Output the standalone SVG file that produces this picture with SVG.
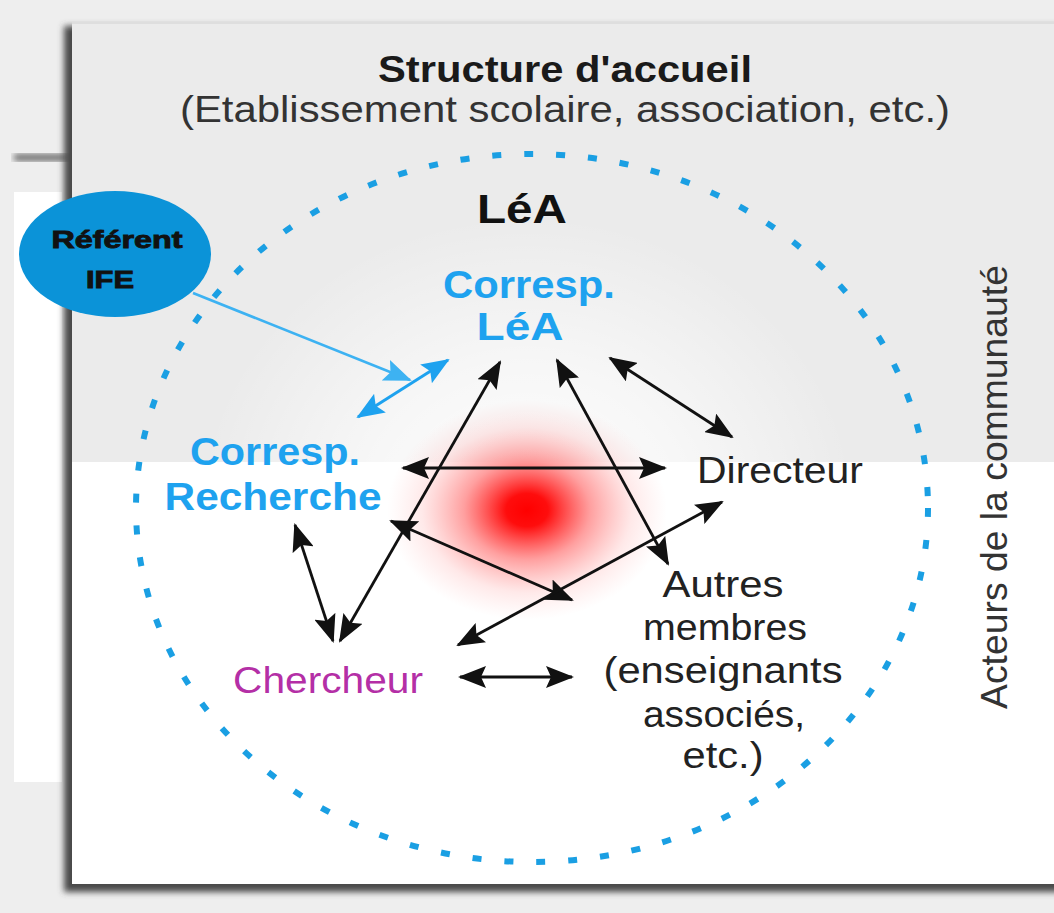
<svg xmlns="http://www.w3.org/2000/svg" width="1054" height="913" viewBox="0 0 1054 913">
  <defs>
    <style>
      .t { font-family: "Liberation Sans", Arial, sans-serif; }
      .blk { fill: #222222; }
      .blue { fill: #1ea2ef; font-weight: bold; }
      .conn { stroke: #111111; stroke-width: 2.8; fill: none; marker-start: url(#ah); marker-end: url(#ah); }
    </style>
    <marker id="ah" viewBox="0 0 28 22" refX="26" refY="11" markerWidth="28" markerHeight="22" markerUnits="userSpaceOnUse" orient="auto-start-reverse">
      <path d="M0,0 L28,11 L0,22 L5,11 z" fill="#111111"/>
    </marker>
    <marker id="ahb" viewBox="0 0 28 22" refX="26" refY="11" markerWidth="28" markerHeight="22" markerUnits="userSpaceOnUse" orient="auto-start-reverse">
      <path d="M0,0 L28,11 L0,22 L5,11 z" fill="#1ea2ef"/>
    </marker>
    <marker id="ahl" viewBox="0 0 28 22" refX="26" refY="11" markerWidth="28" markerHeight="22" markerUnits="userSpaceOnUse" orient="auto">
      <path d="M0,0 L28,11 L0,22 L5,11 z" fill="#3db2f2"/>
    </marker>
    <radialGradient id="red" cx="0.5" cy="0.5" r="0.5">
      <stop offset="0" stop-color="#ff0000" stop-opacity="1"/>
      <stop offset="0.15" stop-color="#ff0000" stop-opacity="0.95"/>
      <stop offset="0.45" stop-color="#ff2a2a" stop-opacity="0.45"/>
      <stop offset="0.75" stop-color="#ff6060" stop-opacity="0.14"/>
      <stop offset="1" stop-color="#ff8080" stop-opacity="0"/>
    </radialGradient>
    <radialGradient id="halo" cx="0.5" cy="0.5" r="0.5">
      <stop offset="0" stop-color="#ffffff" stop-opacity="1"/>
      <stop offset="0.5" stop-color="#ffffff" stop-opacity="0.6"/>
      <stop offset="1" stop-color="#ffffff" stop-opacity="0"/>
    </radialGradient>
    <filter id="shadow" x="-5%" y="-5%" width="110%" height="110%">
      <feGaussianBlur stdDeviation="3"/>
    </filter>
  </defs>

  <!-- background -->
  <rect x="0" y="0" width="1054" height="913" fill="#eeeeee"/>
  <rect x="14" y="192" width="48" height="590" fill="#ffffff"/>
  <rect x="14" y="154" width="56" height="7" fill="#6a6a6a" filter="url(#shadow)"/>

  <!-- card -->
  <rect x="64" y="26" width="1000" height="866" fill="#4a4a4a" filter="url(#shadow)"/>
  <rect x="72" y="22" width="990" height="862" fill="#ffffff"/>
  <rect x="72" y="22" width="990" height="440" fill="#ebebeb"/>
  <line x1="72" y1="23" x2="1054" y2="23" stroke="#dedede" stroke-width="2"/>

  <!-- glow -->
  <ellipse cx="527" cy="515" rx="330" ry="300" fill="url(#halo)"/>
  <ellipse cx="527" cy="510" rx="140" ry="110" fill="url(#red)"/>

  <!-- dotted LéA circle -->
  <g id="lea-circle">
    <ellipse cx="532" cy="508" rx="396" ry="354" fill="none" stroke="#1a9fe3" stroke-width="6" stroke-dasharray="9 23"/>
  </g>

  <!-- titles -->
  <g id="structure">
    <text class="t" x="565" y="82" font-size="36" font-weight="bold" fill="#1a1a1a" text-anchor="middle" textLength="374" lengthAdjust="spacingAndGlyphs">Structure d'accueil</text>
    <text class="t" x="565" y="122" font-size="36" fill="#333333" text-anchor="middle" textLength="770" lengthAdjust="spacingAndGlyphs">(Etablissement scolaire, association, etc.)</text>
  </g>
  <g id="lea-label">
    <text class="t" x="522" y="223" font-size="40" font-weight="bold" fill="#111111" text-anchor="middle" textLength="90" lengthAdjust="spacingAndGlyphs">LéA</text>
  </g>
  <g id="acteurs">
    <text class="t" transform="translate(1007,487) rotate(-90)" x="0" y="0" font-size="37" fill="#333333" text-anchor="middle" textLength="444" lengthAdjust="spacingAndGlyphs">Acteurs de la communauté</text>
  </g>

  <!-- nodes -->
  <g id="referent-ife">
    <ellipse cx="115" cy="254" rx="96" ry="63" fill="#0b93d8"/>
    <text class="t" x="117" y="248" font-size="24" font-weight="bold" fill="#111111" stroke="#111111" stroke-width="0.9" text-anchor="middle" textLength="131" lengthAdjust="spacingAndGlyphs">Référent</text>
    <text class="t" x="110" y="288" font-size="24" font-weight="bold" fill="#111111" stroke="#111111" stroke-width="0.9" text-anchor="middle" textLength="48" lengthAdjust="spacingAndGlyphs">IFE</text>
  </g>
  <g id="corresp-lea">
    <text class="t blue" x="529" y="298" font-size="38" text-anchor="middle" textLength="172" lengthAdjust="spacingAndGlyphs">Corresp.</text>
    <text class="t blue" x="520" y="340" font-size="38" text-anchor="middle" textLength="87" lengthAdjust="spacingAndGlyphs">LéA</text>
  </g>
  <g id="corresp-recherche">
    <text class="t blue" x="275" y="465" font-size="38" text-anchor="middle" textLength="170" lengthAdjust="spacingAndGlyphs">Corresp.</text>
    <text class="t blue" x="273" y="510" font-size="38" text-anchor="middle" textLength="217" lengthAdjust="spacingAndGlyphs">Recherche</text>
  </g>
  <g id="directeur">
    <text class="t blk" x="780" y="483" font-size="36" text-anchor="middle" textLength="166" lengthAdjust="spacingAndGlyphs">Directeur</text>
  </g>
  <g id="autres-membres">
    <text class="t blk" x="723" y="597" font-size="36" text-anchor="middle" textLength="121" lengthAdjust="spacingAndGlyphs">Autres</text>
    <text class="t blk" x="725" y="640" font-size="36" text-anchor="middle" textLength="164" lengthAdjust="spacingAndGlyphs">membres</text>
    <text class="t blk" x="723" y="683" font-size="36" text-anchor="middle" textLength="239" lengthAdjust="spacingAndGlyphs">(enseignants</text>
    <text class="t blk" x="724" y="727" font-size="36" text-anchor="middle" textLength="162" lengthAdjust="spacingAndGlyphs">associés,</text>
    <text class="t blk" x="723" y="768" font-size="36" text-anchor="middle" textLength="81" lengthAdjust="spacingAndGlyphs">etc.)</text>
  </g>
  <g id="chercheur">
    <text class="t" x="328" y="693" font-size="37" fill="#b42fa6" text-anchor="middle" textLength="190" lengthAdjust="spacingAndGlyphs">Chercheur</text>
  </g>

  <!-- connectors -->
  <g id="connectors">
    <line x1="193" y1="293" x2="410" y2="380" stroke="#3db2f2" stroke-width="2.6" marker-end="url(#ahl)"/>
    <line x1="358" y1="417" x2="448" y2="360" stroke="#1ea2ef" stroke-width="3" marker-start="url(#ahb)" marker-end="url(#ahb)"/>
    <line class="conn" x1="295" y1="525" x2="333" y2="641"/>
    <line class="conn" x1="340" y1="641" x2="500" y2="362"/>
    <line class="conn" x1="403" y1="468" x2="665" y2="468"/>
    <line class="conn" x1="557" y1="360" x2="668" y2="564"/>
    <line class="conn" x1="610" y1="358" x2="732" y2="437"/>
    <line class="conn" x1="391" y1="521" x2="572" y2="600"/>
    <line class="conn" x1="458" y1="645" x2="722" y2="502"/>
    <line class="conn" x1="460" y1="677" x2="572" y2="677"/>
  </g>
</svg>
